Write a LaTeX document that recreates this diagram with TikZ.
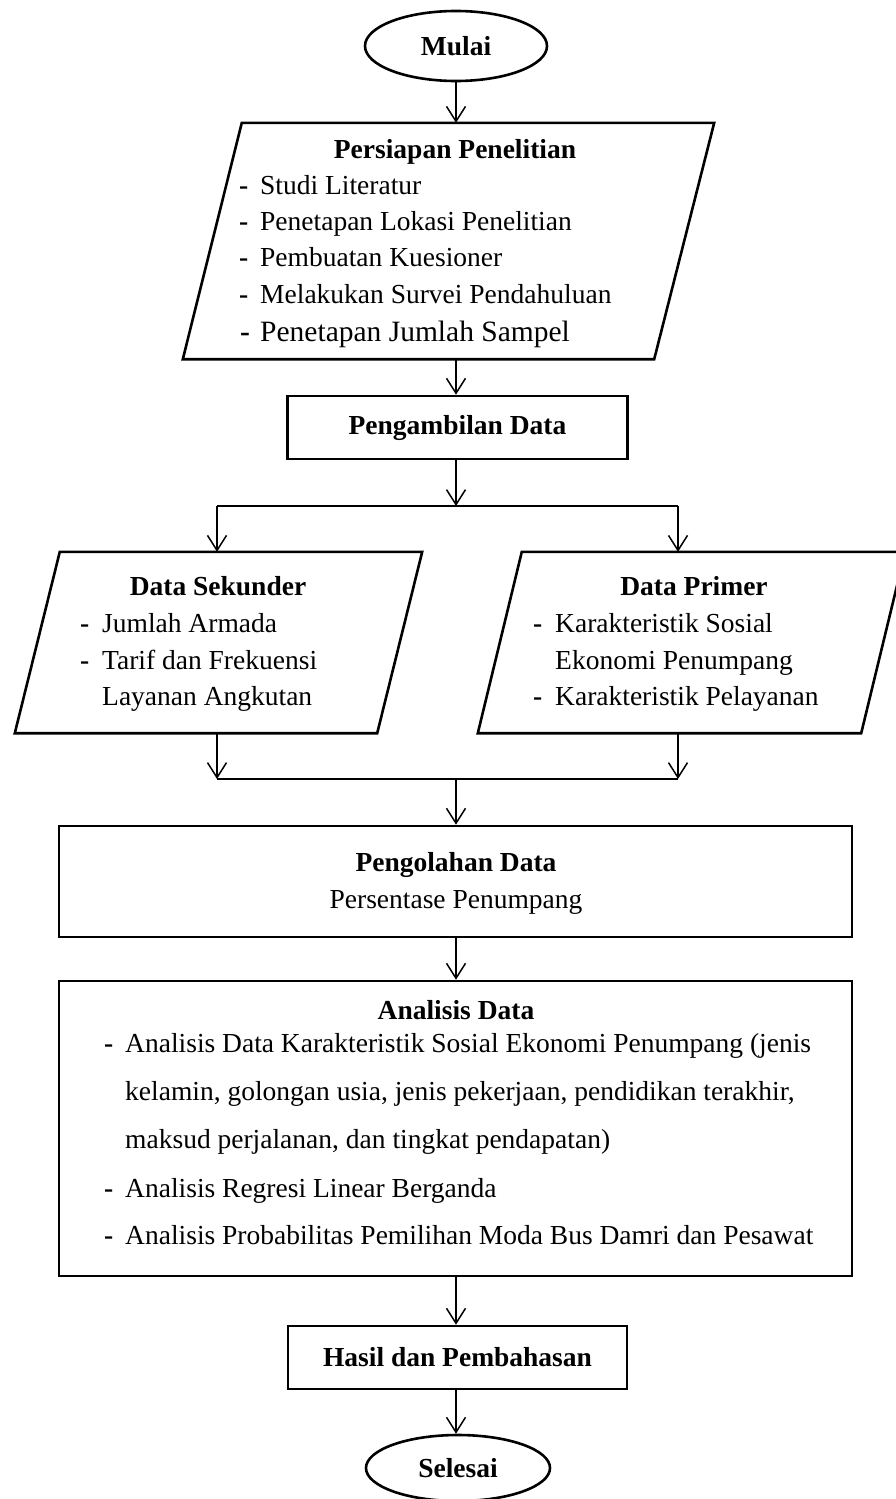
\documentclass[tikz,border=0pt]{standalone}
\usepackage{fontspec}
\setmainfont{Liberation Serif}
\usetikzlibrary{arrows.meta,shapes.geometric}
\begin{document}
\begin{tikzpicture}[x=1pt,y=-1pt,
  outl/.style={draw, line width=2.6pt},
  box/.style={outl, rectangle, inner sep=0pt, font=\fontsize{27.5}{33}\selectfont\bfseries},
  term/.style={outl, ellipse, inner sep=0pt, font=\fontsize{27.5}{33}\selectfont\bfseries},
  frame/.style={rectangle, inner sep=0pt},
  arr/.style={line width=1.5pt, -{Straight Barb[length=15pt,width=19pt,line width=1.5pt]}},
  bar/.style={line width=2.6pt},
  txt/.style={font=\fontsize{27.5}{33}\selectfont, inner sep=0pt, anchor=base west},
  hd/.style={font=\fontsize{27.5}{33}\selectfont\bfseries, inner sep=0pt, anchor=base},
  ctr/.style={font=\fontsize{27.5}{33}\selectfont, inner sep=0pt, anchor=base},
]
\useasboundingbox (0,0) rectangle (895,1499);
\newcommand{\dsh}[1]{\makebox[#1][l]{\bfseries -}}

% terminals
\node[term, minimum width=182pt, minimum height=70pt] (start) at (456,46) {Mulai};
\node[term, minimum width=184pt, minimum height=66pt] (stop) at (458,1468) {Selesai};

% preparation (parallelogram)
\node[frame, minimum width=531pt, minimum height=236pt] (prep) at (448.5,241) {};
\draw[outl] ([xshift=59pt]prep.north west) -- (prep.north east)
  -- ([xshift=-60pt]prep.south east) -- (prep.south west) -- cycle;
\node[hd] (prepT) at (455,158) {Persiapan Penelitian};
\node[txt] (prep1) at (239,194) {\dsh{21pt}Studi Literatur};
\node[txt] (prep2) at (239,230) {\dsh{21pt}Penetapan Lokasi Penelitian};
\node[txt] (prep3) at (239,266) {\dsh{21pt}Pembuatan Kuesioner};
\node[txt] (prep4) at (239,303) {\dsh{21pt}Melakukan Survei Pendahuluan};
\node[txt, font=\fontsize{29.5}{35}\selectfont] (prep5) at (240,341) {\dsh{20pt}Penetapan Jumlah Sampel};

% data collection
\node[box, minimum width=340pt, minimum height=63pt] (ambil) at (457.5,427.5) {Pengambilan Data};

% secondary data (parallelogram)
\node[frame, minimum width=407pt, minimum height=181pt] (sek) at (218.5,642.5) {};
\draw[outl] ([xshift=45pt]sek.north west) -- (sek.north east)
  -- ([xshift=-45pt]sek.south east) -- (sek.south west) -- cycle;
\node[hd] (sekT) at (218,595) {Data Sekunder};
\node[txt] (sek1) at (80,632) {\dsh{22pt}Jumlah Armada};
\node[txt] (sek2) at (80,669) {\dsh{22pt}Tarif dan Frekuensi};
\node[txt] (sek3) at (102,705) {Layanan Angkutan};

% primary data (parallelogram)
\node[frame, minimum width=427pt, minimum height=181pt] (pri) at (691.5,642.5) {};
\draw[outl] ([xshift=44pt]pri.north west) -- (pri.north east)
  -- ([xshift=-44pt]pri.south east) -- (pri.south west) -- cycle;
\node[hd] (priT) at (694,595) {Data Primer};
\node[txt] (pri1) at (533,632) {\dsh{22pt}Karakteristik Sosial};
\node[txt] (pri2) at (555,669) {Ekonomi Penumpang};
\node[txt] (pri3) at (533,705) {\dsh{22pt}Karakteristik Pelayanan};

% processing
\node[box, minimum width=793pt, minimum height=111pt] (olah) at (455.5,881.5) {};
\node[hd] (olahT) at (456,871) {Pengolahan Data};
\node[ctr] (olah1) at (456,908) {Persentase Penumpang};

% analysis
\node[box, minimum width=793pt, minimum height=295pt] (anal) at (455.5,1128.5) {};
\node[hd] (analT) at (456,1019) {Analisis Data};
\node[txt] (anal1) at (104,1052) {\dsh{21pt}Analisis Data Karakteristik Sosial Ekonomi Penumpang (jenis};
\node[txt] (anal2) at (125,1100) {kelamin, golongan usia, jenis pekerjaan, pendidikan terakhir,};
\node[txt] (anal3) at (125,1148) {maksud perjalanan, dan tingkat pendapatan)};
\node[txt] (anal4) at (104,1197) {\dsh{21pt}Analisis Regresi Linear Berganda};
\node[txt] (anal5) at (104,1244) {\dsh{21pt}Analisis Probabilitas Pemilihan Moda Bus Damri dan Pesawat};

% results
\node[box, minimum width=339pt, minimum height=63pt] (hasil) at (457.5,1357.5) {Hasil dan Pembahasan};

% connectors
\coordinate (split) at (456,506);
\coordinate (splitL) at (217,506);
\coordinate (splitR) at (678,506);
\coordinate (joinL) at (217,779);
\coordinate (joinR) at (678,779);
\coordinate (join) at (456,779);

\draw[arr] (start.south) -- (start.south |- prep.north);
\draw[arr] (start.south |- prep.south) -- (start.south |- ambil.north);
\draw[arr] (start.south |- ambil.south) -- (split);
\draw[bar] (splitL) -- (splitR);
\draw[arr] (splitL) -- (splitL |- sek.north);
\draw[arr] (splitR) -- (splitR |- pri.north);
\draw[arr] (splitL |- sek.south) -- (joinL);
\draw[arr] (splitR |- pri.south) -- (joinR);
\draw[bar] (joinL) -- (joinR);
\draw[arr] (join) -- (join |- olah.north);
\draw[arr] (join |- olah.south) -- (join |- anal.north);
\draw[arr] (join |- anal.south) -- (join |- hasil.north);
\draw[arr] (join |- hasil.south) -- (join |- stop.north);
\end{tikzpicture}
\end{document}
